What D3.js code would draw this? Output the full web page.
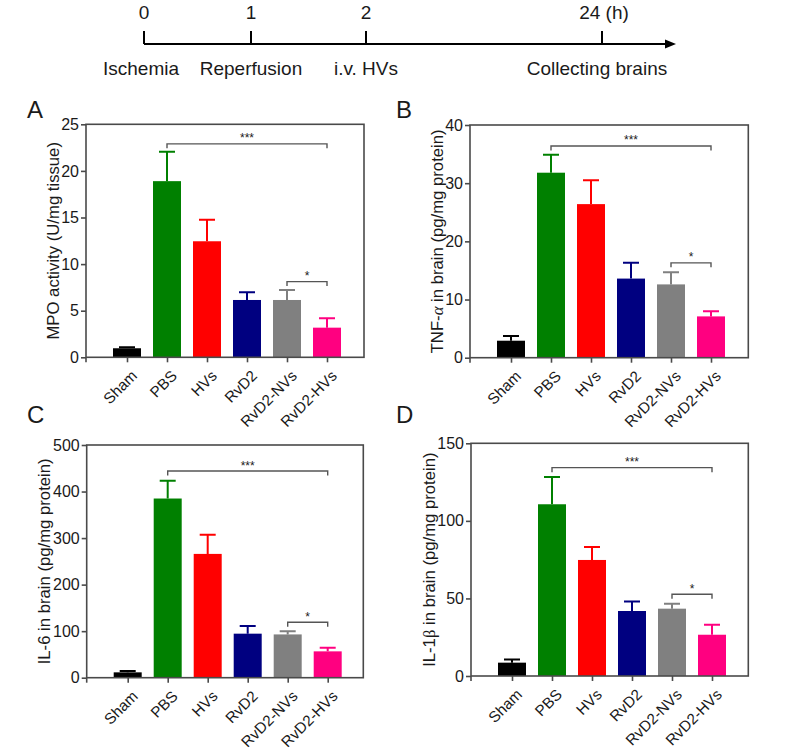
<!DOCTYPE html>
<html><head><meta charset="utf-8">
<script src="https://cdn.jsdelivr.net/npm/d3@7"></script>
<style>
body{margin:0;background:#fff;}
text{font-family:"Liberation Sans",Arial,sans-serif;fill:#1a1a1a;}
</style>
</head><body>
<svg id="c" width="800" height="754"></svg>
<script>
// ---------- data ----------
const categories = ["Sham","PBS","HVs","RvD2","RvD2-NVs","RvD2-HVs"];
const barColors = ["#000000","#008000","#ff0000","#000080","#808080","#ff0080"];

const mpoMean = [0.97, 18.9, 12.45, 6.15, 6.15, 3.18];
const mpoErrTop = [1.07, 22.05, 14.75, 6.97, 7.22, 4.18];
const mpoTicks = [0, 5, 10, 15, 20, 25];

const tnfMean = [2.92, 31.8, 26.4, 13.6, 12.6, 7.1];
const tnfErrTop = [3.72, 34.9, 30.5, 16.3, 14.7, 7.97];
const tnfTicks = [0, 10, 20, 30, 40];

const il6Mean = [11.5, 385, 266, 94.6, 93, 56.6];
const il6ErrTop = [14.3, 423, 307, 111, 100, 64.5];
const il6Ticks = [0, 100, 200, 300, 400, 500];

const il1Mean = [8.6, 110.7, 74.8, 41.9, 43.4, 26.6];
const il1ErrTop = [10.7, 128.3, 83.2, 48.1, 46.6, 33.1];
const il1Ticks = [0, 50, 100, 150];

// significance brackets: [from, to, level (data units), label]
const mpoSig = [["PBS","RvD2-HVs",22.9,"***"],["RvD2-NVs","RvD2-HVs",8.12,"*"]];
const tnfSig = [["PBS","RvD2-HVs",36.4,"***"],["RvD2-NVs","RvD2-HVs",16.3,"*"]];
const il6Sig = [["PBS","RvD2-HVs",444,"***"],["RvD2-NVs","RvD2-HVs",119,"*"]];
const il1Sig = [["PBS","RvD2-HVs",134.3,"***"],["RvD2-NVs","RvD2-HVs",52.7,"*"]];

// timeline
const timePoints = [0, 1, 2, 24];
const timeTickLabels = ["0", "1", "2", "24 (h)"];
const timeEvents = ["Ischemia", "Reperfusion", "i.v. HVs", "Collecting brains"];

// ---------- drawing ----------
const svg = d3.select("#c");
const frameColor = "#4a4a4a";

// Timeline
(function(){
  const t = d3.scaleLinear().domain(timePoints).range([144, 251, 366, 602]);
  const g = svg.append("g");
  const y0 = 44;
  g.append("line").attr("x1", t(0)).attr("x2", 668).attr("y1", y0).attr("y2", y0)
    .attr("stroke", "#000").attr("stroke-width", 2);
  g.append("path").attr("d", `M665,${y0-4.5}L676,${y0}L665,${y0+4.5}Z`).attr("fill", "#000");
  timePoints.forEach((p, i) => {
    g.append("line").attr("x1", t(p)).attr("x2", t(p)).attr("y1", 31).attr("y2", y0)
      .attr("stroke", "#000").attr("stroke-width", 2);
    g.append("text").attr("x", t(p) + (i === 3 ? 2 : 0)).attr("y", 19)
      .attr("text-anchor", "middle").attr("font-size", 19).text(timeTickLabels[i]);
    const dx = [-3, 0, 0, -5][i];
    g.append("text").attr("x", t(p) + dx).attr("y", 75)
      .attr("text-anchor", "middle").attr("font-size", 19).text(timeEvents[i]);
  });
})();

function panel(cfg){
  const {box, label, mean, errTop, ticks, sig, titleParts, titleX, labelPos} = cfg;
  const g = svg.append("g");
  const y = d3.scaleLinear().domain([0, ticks[ticks.length-1]]).range([box.b, box.t]);
  const x = d3.scalePoint().domain(categories).range([box.l + 41, box.l + 241]);
  const bw = 28;

  // bars
  g.selectAll("rect.bar").data(categories).join("rect").attr("class", "bar")
    .attr("x", d => x(d) - bw/2).attr("width", bw)
    .attr("y", (d, i) => y(mean[i])).attr("height", (d, i) => y(0) - y(mean[i]))
    .attr("fill", (d, i) => barColors[i]);

  // error bars (upper)
  g.selectAll("path.err").data(categories).join("path").attr("class", "err")
    .attr("d", (d, i) => `M${x(d)},${y(mean[i])}V${y(errTop[i])}M${x(d)-8},${y(errTop[i])}H${x(d)+8}`)
    .attr("stroke", (d, i) => barColors[i]).attr("stroke-width", 2).attr("fill", "none");

  // frame
  g.append("rect").attr("x", box.l).attr("y", box.t).attr("width", box.r - box.l)
    .attr("height", box.b - box.t).attr("fill", "none")
    .attr("stroke", frameColor).attr("stroke-width", 1.6);

  // y axis
  const ya = g.append("g").attr("transform", `translate(${box.l},0)`)
    .call(d3.axisLeft(y).tickValues(ticks).tickSize(5).tickPadding(2).tickFormat(d3.format("d")));
  ya.select(".domain").remove();
  ya.selectAll("line").attr("stroke", frameColor).attr("stroke-width", 1.6);
  ya.selectAll("text").attr("font-size", 16).attr("font-family", "Liberation Sans, Arial, sans-serif").attr("fill", "#1a1a1a");

  // x axis
  const xa = g.append("g").attr("transform", `translate(0,${box.b})`)
    .call(d3.axisBottom(x).tickSize(5));
  xa.select(".domain").remove();
  xa.selectAll("line").attr("stroke", frameColor).attr("stroke-width", 1.6);
  xa.selectAll("text").attr("x", null).attr("y", null).attr("dy", null)
    .attr("transform", "translate(10.5,19.5) rotate(-45)")
    .attr("text-anchor", "end").attr("font-size", 15.3)
    .attr("font-family", "Liberation Sans, Arial, sans-serif").attr("fill", "#1a1a1a");
  // corner tick
  g.append("line").attr("x1", box.l).attr("x2", box.l).attr("y1", box.b).attr("y2", box.b + 5)
    .attr("stroke", frameColor).attr("stroke-width", 1.6);

  // significance brackets
  sig.forEach(([a, b, lvl, txt]) => {
    const yy = y(lvl);
    g.append("path").attr("d", `M${x(a)},${yy+4.5}V${yy}H${x(b)}V${yy+4.5}`)
      .attr("stroke", "#555").attr("stroke-width", 1.4).attr("fill", "none");
    g.append("text").attr("x", (x(a) + x(b)) / 2).attr("y", yy - 1.5)
      .attr("text-anchor", "middle").attr("font-size", 12).text(txt);
  });

  // y title
  const tt = g.append("text")
    .attr("transform", `translate(${titleX + 6},${(box.t + box.b) / 2}) rotate(-90)`)
    .attr("text-anchor", "middle").attr("font-size", 16.7);
  titleParts.forEach(([s, greek]) => {
    const ts = tt.append("tspan").text(s);
    if (greek) ts.attr("font-family", "Liberation Serif, DejaVu Serif, serif").attr("font-style", greek === "i" ? "italic" : "normal");
  });

  // panel label
  g.append("text").attr("x", labelPos[0]).attr("y", labelPos[1]).attr("font-size", 24).text(label);
}

panel({label: "A", mean: mpoMean, errTop: mpoErrTop, ticks: mpoTicks, sig: mpoSig,
  box: {l: 86, r: 364, t: 124.3, b: 357.3}, titleX: 53, labelPos: [27, 118],
  titleParts: [["MPO activity (U/mg tissue)"]]});
panel({label: "B", mean: tnfMean, errTop: tnfErrTop, ticks: tnfTicks, sig: tnfSig,
  box: {l: 470, r: 748.3, t: 125, b: 357.7}, titleX: 436.7, labelPos: [396, 118],
  titleParts: [["TNF-"], ["α", "i"], [" in brain (pg/mg protein)"]]});
panel({label: "C", mean: il6Mean, errTop: il6ErrTop, ticks: il6Ticks, sig: il6Sig,
  box: {l: 86.7, r: 363.3, t: 445, b: 677.7}, titleX: 43.5, labelPos: [27, 423],
  titleParts: [["IL-6 in brain (pg/mg protein)"]]});
panel({label: "D", mean: il1Mean, errTop: il1ErrTop, ticks: il1Ticks, sig: il1Sig,
  box: {l: 471, r: 748.3, t: 443.3, b: 676}, titleX: 429, labelPos: [396, 423],
  titleParts: [["IL-1"], ["β", "n"], [" in brain (pg/mg protein)"]]});
</script>
</body></html>
